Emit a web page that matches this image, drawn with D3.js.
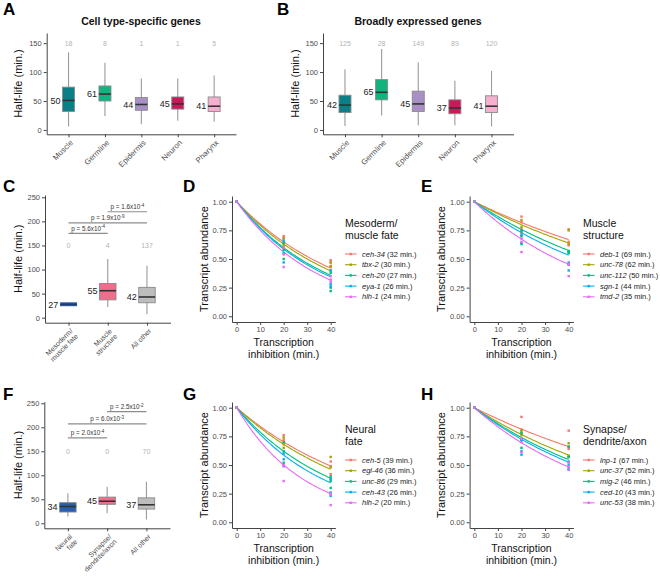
<!DOCTYPE html>
<html><head><meta charset="utf-8">
<script src="https://cdn.jsdelivr.net/npm/d3@7"></script>
<style>body{margin:0;background:#fff} svg{display:block;font-family:"Liberation Sans",Arial,Helvetica,sans-serif}</style>
</head><body><svg id="c" width="660" height="577"></svg>
<script>
// ---------- DATA ----------
const tissueCats = ["Muscle","Germline","Epidermis","Neuron","Pharynx"];
const tissueColors = ["#0b7f87","#10b47f","#a88fc6","#c81a5a","#f5b0cf"];
// [lower whisker, q1, median, q3, upper whisker]
const specificStats = [[6,32,51,74,134],[24,50,62,76,116],[10,34,44,56,89],[16,36,45,57,89],[14,32,41,57,94]];
const specificMedians = [50,61,44,45,41];
const specificCounts = ["18","8","1","1","5"];
const broadStats = [[7,30,43,60,105],[25,52,65,87,140],[8,32,45,67,117],[8,28,38,52,85],[6,30,41,59,102]];
const broadMedians = [42,65,45,37,41];
const broadCounts = ["125","28","149","89","120"];

const cCats = [["Mesoderm/","muscle fate"],["Muscle","structure"],["All other"]];
const cColors = ["#1d4f9a","#ef6e8b","#bdbdbd"];
const cStats = [[24,24.5,27.5,31,31.5],[22,37,56,71,122],[7,31,43,63,108]];
const cMedians = [27,55,42];
const cCounts = ["0","4","137"];
const cSig = [{a:0,b:1,y:175,m:"5.6",e:"-4"},{a:0,b:2,y:197,m:"1.9",e:"-9"},{a:1,b:2,y:220,m:"1.6",e:"-4"}];

const fCats = [["Neural","fate"],["Synapse/","dendrite/axon"],["All other"]];
const fColors = ["#2b5ea9","#ef6e8b","#bdbdbd"];
const fStats = [[14,23.5,35,43,62.5],[21,39.5,46,54.6,76],[8,29.6,38.6,53,86.6]];
const fMedians = [34,45,37];
const fCounts = ["0","0","70"];
const fSig = [{a:0,b:1,y:178,m:"2.0",e:"-4"},{a:0,b:2,y:207,m:"6.0",e:"-3"},{a:1,b:2,y:232.5,m:"2.5",e:"-2"}];

const geneColors = ["#F8766D","#A3A500","#00BF7D","#00B0F6","#E76BF3"];
const timeTicks = [0,10,20,30,40];
const abundTicks = [0,0.25,0.5,0.75,1];

const dGenes = ["ceh-34","tbx-2","ceh-20","eya-1","hlh-1"];
const dHalf = [32,30,27,26,24];
const dPts = [
  [[0,1],[20,0.70],[20,0.68],[20,0.65],[40,0.49],[40,0.47],[40,0.43]],
  [[0,1],[20,0.68],[20,0.62],[20,0.60],[40,0.47],[40,0.44],[40,0.40]],
  [[0,1],[20,0.64],[20,0.58],[20,0.50],[40,0.38],[40,0.25],[40,0.22]],
  [[0,1],[20,0.66],[20,0.55],[20,0.47],[40,0.40],[40,0.28],[40,0.26]],
  [[0,1],[20,0.60],[20,0.54],[20,0.43],[40,0.35],[40,0.32],[40,0.30]]];

const eGenes = ["deb-1","unc-78","unc-112","sgn-1","tmd-2"];
const eHalf = [69,62,50,44,35];
const ePts = [
  [[0,1],[20,0.87],[20,0.82],[20,0.76],[40,0.76],[40,0.65],[40,0.62]],
  [[0,1],[20,0.84],[20,0.78],[20,0.73],[40,0.75],[40,0.63],[40,0.56]],
  [[0,1],[20,0.75],[20,0.70],[20,0.63],[40,0.57],[40,0.56],[40,0.55]],
  [[0,1],[20,0.74],[20,0.71],[20,0.64],[40,0.47],[40,0.45],[40,0.40]],
  [[0,1],[20,0.68],[20,0.65],[20,0.56],[40,0.46],[40,0.45],[40,0.35]]];

const gGenes = ["ceh-5","egl-46","unc-86","ceh-43","hlh-2"];
const gHalf = [39,36,29,26,20];
const gPts = [
  [[0,1],[20,0.76],[20,0.72],[20,0.70],[40,0.53],[40,0.49],[40,0.42]],
  [[0,1],[20,0.74],[20,0.68],[20,0.65],[40,0.57],[40,0.48],[40,0.38]],
  [[0,1],[20,0.70],[20,0.62],[20,0.52],[40,0.40],[40,0.36],[40,0.30]],
  [[0,1],[20,0.60],[20,0.55],[20,0.49],[40,0.38],[40,0.26],[40,0.23]],
  [[0,1],[20,0.50],[20,0.49],[20,0.36],[40,0.25],[40,0.24],[40,0.15]]];

const hGenes = ["lnp-1","unc-37","mig-2","ced-10","unc-53"];
const hHalf = [67,52,46,43,38];
const hPts = [
  [[0,1],[20,0.92],[20,0.81],[20,0.78],[40,0.80],[40,0.66],[40,0.64]],
  [[0,1],[20,0.80],[20,0.76],[20,0.73],[40,0.69],[40,0.58],[40,0.57]],
  [[0,1],[20,0.78],[20,0.72],[20,0.65],[40,0.66],[40,0.57],[40,0.47]],
  [[0,1],[20,0.72],[20,0.62],[20,0.59],[40,0.53],[40,0.50],[40,0.46]],
  [[0,1],[20,0.73],[20,0.70],[20,0.61],[40,0.52],[40,0.49],[40,0.46]]];

// ---------- DRAWING ----------
const svg = d3.select("#c");
const AX = "#444", TXT = "#4d4d4d";

function styleAxis(g){
  g.select(".domain").attr("stroke",AX).attr("stroke-width",1);
  g.selectAll(".tick line").attr("stroke",AX);
  g.selectAll(".tick text").attr("fill",TXT).attr("font-size",7.5).attr("font-family",null);
}

function panelLetter(t,x,y){
  svg.append("text").attr("x",x).attr("y",y).attr("font-size",17).attr("font-weight","bold").attr("fill","#000").text(t);
}

function boxPanel(o){
  const g = svg.append("g");
  const x = d3.scalePoint().domain(d3.range(o.stats.length)).range(o.xr).padding(0.6);
  const y = d3.scaleLinear().domain(o.yd).range(o.yr);
  const ya = g.append("g").attr("transform",`translate(${o.xr[0]},0)`)
    .call(d3.axisLeft(y).tickValues(o.ticks).tickSize(3).tickSizeOuter(0).tickPadding(2));
  styleAxis(ya);
  const xa = g.append("g").attr("transform",`translate(0,${o.yr[0]})`)
    .call(d3.axisBottom(x).tickSize(3).tickSizeOuter(0).tickFormat(""));
  styleAxis(xa);
  o.labels.forEach((lab,i)=>{
    const lines = Array.isArray(lab)?lab:[lab];
    const t = g.append("text").attr("transform",`translate(${x(i)+3},${o.yr[0]+7}) rotate(-45)`)
      .attr("text-anchor","end").attr("font-size",o.labFont).attr("fill",TXT);
    lines.forEach((l,j)=>t.append("tspan").attr("x",0).attr("dy",j===0?"0.35em":"1.05em").text(l));
  });
  const bw = o.bw;
  o.stats.forEach((s,i)=>{
    const cx = x(i);
    const tiny = i===0 && o.thinFirst;
    g.append("line").attr("x1",cx).attr("x2",cx).attr("y1",y(s[0])).attr("y2",y(s[4])).attr("stroke","#9a9a9a").attr("stroke-width",1.1);
    g.append("rect").attr("x",cx-bw/2).attr("width",bw).attr("y",y(s[3])).attr("height",y(s[1])-y(s[3]))
      .attr("fill",o.colors[i]).attr("stroke",tiny?"#2a4a80":"#8a8a8a").attr("stroke-width",tiny?0.6:0.9);
    g.append("line").attr("x1",cx-bw/2).attr("x2",cx+bw/2).attr("y1",y(s[2])).attr("y2",y(s[2]))
      .attr("stroke",tiny?"#1a3566":"#333").attr("stroke-width",tiny?0.7:1.6);
    g.append("text").attr("x",cx-bw/2-2).attr("y",y(s[2])).attr("dy","0.35em").attr("text-anchor","end")
      .attr("font-size",9).attr("fill","#222").text(o.medians[i]);
    g.append("text").attr("x",cx).attr("y",y(o.countAt)).attr("dy","0.35em").attr("text-anchor","middle")
      .attr("font-size",7).attr("fill","#b3b3b3").text(o.counts[i]);
  });
  if(o.sig){
    o.sig.forEach(s=>{
      g.append("line").attr("x1",x(s.a)).attr("x2",x(s.b)).attr("y1",y(s.y)).attr("y2",y(s.y)).attr("stroke","#8c8c8c").attr("stroke-width",1.2);
      const t = g.append("text").attr("x",(x(s.a)+x(s.b))/2).attr("y",y(s.y)-2.6).attr("text-anchor","middle")
        .attr("font-size",6.3).attr("fill","#333");
      t.append("tspan").text(`p = ${s.m}x10`);
      t.append("tspan").attr("font-size",4.5).attr("dy",-2.5).text(s.e);
    });
  }
  if(o.title){
    g.append("text").attr("x",o.titleX).attr("y",o.titleY).attr("text-anchor","middle").attr("font-size",10.5)
      .attr("font-weight","bold").attr("fill","#111").text(o.title);
  }
  const ymid = (o.yr[0]+o.yr[1])/2;
  g.append("text").attr("transform",`translate(${o.ytx},${ymid}) rotate(-90)`).attr("text-anchor","middle")
    .attr("font-size",11).attr("fill","#111").text("Half-life (min.)");
}

function decayPanel(o){
  const g = svg.append("g");
  const x = d3.scaleLinear().domain([-2,42]).range(o.xr);
  const y = d3.scaleLinear().domain([-0.05,1.05]).range(o.yr);
  const ya = g.append("g").attr("transform",`translate(${o.xr[0]},0)`)
    .call(d3.axisLeft(y).tickValues(abundTicks).tickFormat(d3.format(".2f")).tickSize(3).tickSizeOuter(0).tickPadding(2));
  styleAxis(ya);
  const xa = g.append("g").attr("transform",`translate(0,${o.yr[0]})`)
    .call(d3.axisBottom(x).tickValues(timeTicks).tickSize(3).tickSizeOuter(0).tickPadding(2));
  styleAxis(xa);
  const ts = d3.range(0,40.01,0.5);
  o.half.forEach((h,i)=>{
    g.append("path").datum(ts.map(t=>[t,Math.pow(2,-t/h)]))
      .attr("d",d3.line().x(d=>x(d[0])).y(d=>y(d[1]))).attr("fill","none").attr("stroke",geneColors[i]).attr("stroke-width",1.1);
  });
  o.pts.forEach((arr,i)=>{
    arr.forEach(p=>{
      g.append("rect").attr("x",x(p[0])-1.2).attr("y",y(p[1])-1.2).attr("width",2.4).attr("height",2.4).attr("fill",geneColors[i]);
    });
  });
  const xm = (o.xr[0]+o.xr[1])/2;
  g.append("text").attr("x",xm).attr("y",o.yr[0]+24).attr("text-anchor","middle").attr("font-size",10.5).attr("fill","#111").text("Transcription");
  g.append("text").attr("x",xm).attr("y",o.yr[0]+35.5).attr("text-anchor","middle").attr("font-size",10.5).attr("fill","#111").text("inhibition (min.)");
  const ymid = (o.yr[0]+o.yr[1])/2;
  g.append("text").attr("transform",`translate(${o.ytx},${ymid}) rotate(-90)`).attr("text-anchor","middle")
    .attr("font-size",11).attr("fill","#111").text("Transcript abundance");
  const L = g.append("g");
  o.legTitle.forEach((l,j)=>L.append("text").attr("x",o.lx).attr("y",o.ly+j*12).attr("font-size",10.5).attr("fill","#111").text(l));
  o.genes.forEach((gn,i)=>{
    const yy = o.ly + 27.5 + i*10.7;
    L.append("line").attr("x1",o.lx).attr("x2",o.lx+11.5).attr("y1",yy).attr("y2",yy).attr("stroke",geneColors[i]).attr("stroke-width",1.1);
    L.append("rect").attr("x",o.lx+5.75-1.2).attr("y",yy-1.2).attr("width",2.4).attr("height",2.4).attr("fill",geneColors[i]);
    const t = L.append("text").attr("x",o.lx+17).attr("y",yy).attr("dy","0.35em").attr("font-size",7.5).attr("fill","#222");
    t.append("tspan").attr("font-style","italic").text(gn);
    t.append("tspan").text(` (${o.half[i]} min.)`);
  });
}

boxPanel({stats:specificStats,medians:specificMedians,counts:specificCounts,colors:tissueColors,labels:tissueCats,
  xr:[46.7,236],yd:[-7.5,167.5],yr:[134.3,33],ticks:[0,50,100,150],bw:12,labFont:7.8,countAt:150,
  title:"Cell type-specific genes",titleX:141,titleY:25,ytx:22});
boxPanel({stats:broadStats,medians:broadMedians,counts:broadCounts,colors:tissueColors,labels:tissueCats,
  xr:[323,513.5],yd:[-7.5,167.5],yr:[134.3,33],ticks:[0,50,100,150],bw:12,labFont:7.8,countAt:150,
  title:"Broadly expressed genes",titleX:418,titleY:25,ytx:299});
boxPanel({stats:cStats,medians:cMedians,counts:cCounts,colors:cColors,labels:cCats,sig:cSig,thinFirst:true,
  xr:[45,170.5],yd:[-10.4,254.8],yr:[322.7,195],ticks:[0,50,100,150,200,250],bw:16.5,labFont:7,countAt:150,ytx:22});
boxPanel({stats:fStats,medians:fMedians,counts:fCounts,colors:fColors,labels:fCats,sig:fSig,
  xr:[44.3,170],yd:[-10.4,253.3],yr:[528.3,401.7],ticks:[0,50,100,150,200,250],bw:16.5,labFont:7,countAt:150,ytx:22});

decayPanel({genes:dGenes,half:dHalf,pts:dPts,xr:[232,335.4],yr:[322,196],ytx:208,lx:345,ly:226.5,legTitle:["Mesoderm/","muscle fate"]});
decayPanel({genes:eGenes,half:eHalf,pts:ePts,xr:[469.6,573.4],yr:[322,196],ytx:445,lx:583,ly:226.5,legTitle:["Muscle","structure"]});
decayPanel({genes:gGenes,half:gHalf,pts:gPts,xr:[232,335.4],yr:[528,402],ytx:208,lx:345,ly:432.5,legTitle:["Neural","fate"]});
decayPanel({genes:hGenes,half:hHalf,pts:hPts,xr:[469.6,573.4],yr:[528,402],ytx:445,lx:583,ly:432.5,legTitle:["Synapse/","dendrite/axon"]});

panelLetter("A",3,15); panelLetter("B",277,15);
panelLetter("C",3,192); panelLetter("D",183,192); panelLetter("E",421,192);
panelLetter("F",3,400); panelLetter("G",183,400); panelLetter("H",421,400);
</script></body></html>
